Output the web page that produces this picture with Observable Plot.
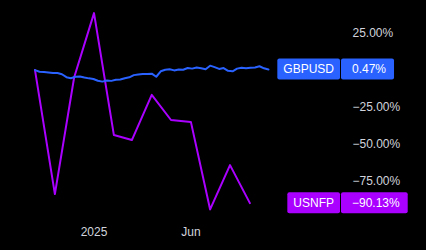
<!DOCTYPE html>
<html>
<head>
<meta charset="utf-8">
<script src="https://cdn.jsdelivr.net/npm/d3@7"></script>
<script src="https://cdn.jsdelivr.net/npm/@observablehq/plot@0.6"></script>
<style>
  html, body { margin: 0; padding: 0; background: #000; }
  #chart { width: 426px; height: 250px; overflow: hidden; }
</style>
</head>
<body>
<div id="chart"></div>
<script>
// ---- Data ----
// GBPUSD: weekly % change since 1 Oct 2024
const gbpStart = "2024-10-01";
const gbpValues = [
  0.0, -1.1, -1.3, -1.6, -1.9, -2.0, -2.8, -4.8, -5.5, -4.5,
  -4.3, -5.0, -5.6, -6.0, -7.2, -7.8, -7.0, -7.3, -6.6, -6.4,
  -5.5, -4.9, -3.4, -3.0, -2.6, -2.7, -2.4, -4.5, -0.8, 0.2,
  0.6, -0.2, 0.4, 0.2, 1.4, 1.0, 1.8, 1.3, 0.6, 3.0,
  2.0, 0.8, 1.4, -0.5, -0.8, 1.0, 1.6, 1.2, 1.6, 1.8,
  2.6, 1.2, 0.47
];
// USNFP: monthly % change
const nfpMonths = ["2024-10-01","2024-11-01","2024-12-01","2025-01-01","2025-02-01","2025-03-01",
                   "2025-04-01","2025-05-01","2025-06-01","2025-07-01","2025-08-01","2025-09-01"];
const nfpValues = [0.0, -84.0, -5.0, 38.6, -44.0, -47.4, -16.8, -33.8, -35.1, -94.4, -64.4, -90.13];

const seriesNames = ["GBPUSD", "USNFP"];
const seriesColors = ["#2962ff", "#aa00ff"];

const yTicks = [25, -25, -50, -75];
const xTicks = ["2025-01-01", "2025-06-01"];
const xTickLabels = ["2025", "Jun"];

// ---- Build tables ----
const DAY = 86400000;
const t0 = new Date(gbpStart + "T00:00:00Z").getTime();
const gbp = gbpValues.map((v, i) => ({date: new Date(t0 + i * 7 * DAY), value: v}));
const nfp = nfpMonths.map((m, i) => ({date: new Date(m + "T00:00:00Z"), value: nfpValues[i]}));

const FONT = "'Liberation Sans', Arial, sans-serif";
const fmtPct = v => (v < 0 ? "\u2212" : "") + Math.abs(v).toFixed(2) + "%";

const canvas = document.createElement("canvas").getContext("2d");
canvas.font = "12px " + FONT;
const tw = s => canvas.measureText(s).width;

const AXIS_PAD = 84;

const lastValues = [gbp[gbp.length - 1].value, nfp[nfp.length - 1].value];

function labelMark(index, scales, values, dims) {
  const g = d3.create("svg:g").attr("font-family", FONT).attr("font-size", 12);
  const textX = dims.width - dims.marginRight + AXIS_PAD;
  seriesNames.forEach((name, i) => {
    const v = lastValues[i];
    const cy = scales.y(v);
    const h = 21;
    const nameW = tw(name) + 12;
    const valStr = fmtPct(v);
    const valRight = textX + tw(valStr) + 8;
    const nameRight = textX - 12;
    g.append("rect").attr("x", nameRight - nameW).attr("y", cy - h / 2)
      .attr("width", nameW).attr("height", h).attr("rx", 2).attr("fill", seriesColors[i]);
    g.append("rect").attr("x", nameRight + 1).attr("y", cy - h / 2)
      .attr("width", valRight - nameRight - 1).attr("height", h).attr("rx", 2).attr("fill", seriesColors[i]);
    g.append("text").attr("x", nameRight - nameW / 2).attr("y", cy).attr("dy", "0.36em")
      .attr("text-anchor", "middle").attr("fill", "#fff").text(name);
    g.append("text").attr("x", textX).attr("y", cy).attr("dy", "0.36em")
      .attr("text-anchor", "start").attr("fill", "#fff").text(valStr);
  });
  return g.node();
}

const chart = Plot.plot({
  width: 426,
  height: 250,
  marginLeft: 34.5,
  marginRight: 158,
  marginTop: 0,
  marginBottom: 27,
  style: {background: "#000", color: "#d1d4dc", fontFamily: FONT, fontSize: "12px"},
  x: {type: "utc", domain: [new Date(t0), gbp[gbp.length - 1].date]},
  y: {domain: [-75, 25], range: [180.3, 32.7]},
  marks: [
    Plot.axisY({anchor: "right", ticks: yTicks, tickSize: 0, tickPadding: AXIS_PAD,
      tickFormat: fmtPct, fill: "#d1d4dc", fontSize: 12, label: null}),
    Plot.axisX({ticks: xTicks.map(d => new Date(d + "T00:00:00Z")), tickSize: 0, tickPadding: 4,
      tickFormat: (d, i) => xTickLabels[i], fill: "#d1d4dc", fontSize: 12, label: null}),
    Plot.line(nfp, {x: "date", y: "value", stroke: seriesColors[1], strokeWidth: 2}),
    Plot.line(gbp, {x: "date", y: "value", stroke: seriesColors[0], strokeWidth: 2}),
    labelMark
  ]
});
document.getElementById("chart").appendChild(chart);
</script>
</body>
</html>
